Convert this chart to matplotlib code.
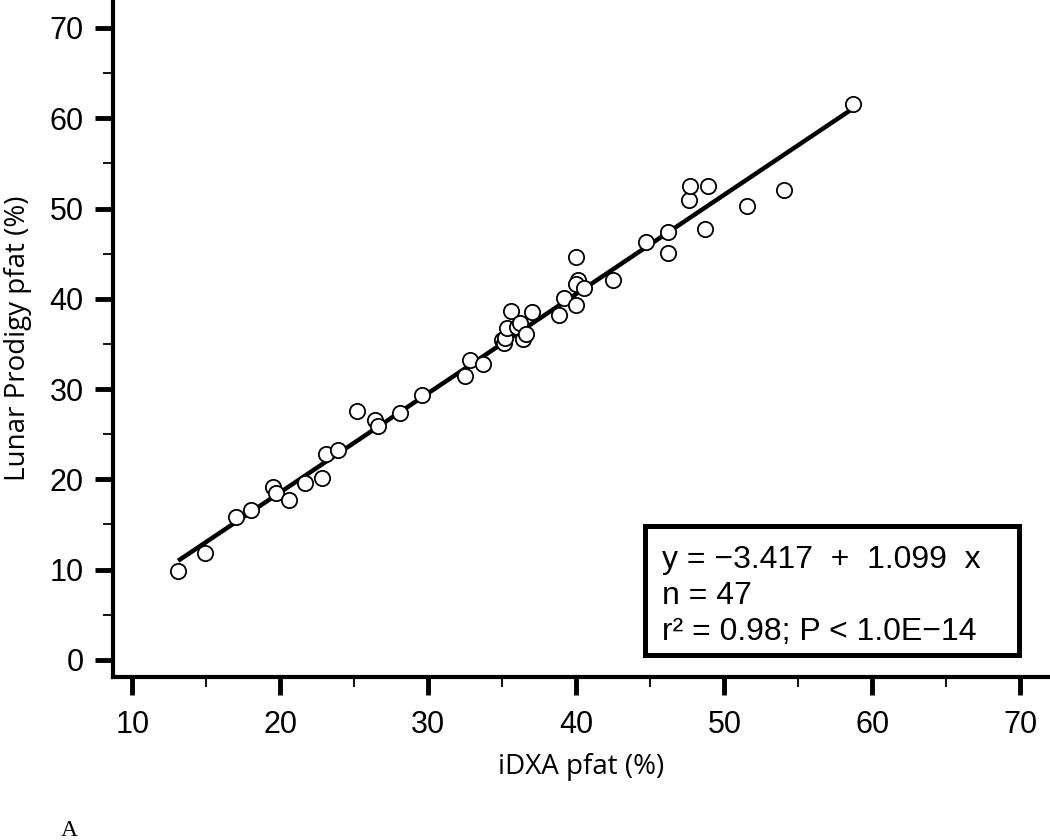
import numpy as np
import matplotlib
matplotlib.use("Agg")
import matplotlib.pyplot as plt
from matplotlib.patches import Rectangle
from matplotlib.ticker import MultipleLocator

plt.rcParams['font.family'] = ['Liberation Sans', 'DejaVu Sans']

# iDXA vs Lunar Prodigy percent fat
idxa = [13.1, 14.9, 17.0, 18.0, 19.5, 19.7, 20.6, 21.7, 22.8, 23.1,
        23.9, 25.2, 26.4, 26.6, 28.1, 29.6, 32.5, 32.8, 33.7, 35.0,
        35.1, 35.2, 35.3, 35.6, 36.0, 36.2, 36.4, 36.6, 37.0, 38.8,
        39.2, 40.0, 40.1, 40.0, 40.5, 40.0, 42.5, 44.7, 46.2, 46.2,
        47.6, 47.7, 48.7, 48.9, 51.5, 54.0, 58.7]
lunar = [9.9, 11.8, 15.8, 16.6, 19.1, 18.5, 17.7, 19.6, 20.2, 22.8,
         23.3, 27.6, 26.6, 25.9, 27.4, 29.3, 31.4, 33.2, 32.8, 35.4,
         35.1, 35.7, 36.8, 38.7, 36.9, 37.3, 35.6, 36.1, 38.5, 38.2,
         40.1, 44.6, 42.1, 41.6, 41.2, 39.3, 42.1, 46.3, 47.4, 45.1,
         50.9, 52.5, 47.7, 52.5, 50.3, 52.1, 61.6]

intercept = -3.417
slope = 1.099
stats_lines = ["y = \u22123.417  +  1.099  x",
               "n = 47",
               "r\u00b2 = 0.98; P < 1.0E\u221214"]

fig = plt.figure(figsize=(10.5, 8.4), dpi=100)
ax = fig.add_axes([0.1076, 0.194, 0.8924, 0.806])

ax.plot(idxa, lunar, 'o', ms=11, mfc='white', mec='black', mew=1.3,
        zorder=3)
xfit = np.array([min(idxa), max(idxa)])
ax.plot(xfit, intercept + slope * xfit, color='black', lw=3.2, zorder=2,
        solid_capstyle='butt')

ax.set_xlim(8.7, 72.0)
ax.set_ylim(-1.9, 73.1)
ax.xaxis.set_major_locator(MultipleLocator(10))
ax.xaxis.set_minor_locator(MultipleLocator(5))
ax.yaxis.set_major_locator(MultipleLocator(10))
ax.yaxis.set_minor_locator(MultipleLocator(5))

for s in ['top', 'right']:
    ax.spines[s].set_visible(False)
for s in ['left', 'bottom']:
    ax.spines[s].set_linewidth(3)

ax.tick_params(which='major', direction='out', length=13, width=3.5,
               labelsize=22)
ax.tick_params(which='minor', direction='out', length=7, width=1.3)
ax.tick_params(axis='y', which='major', pad=8)
ax.tick_params(axis='x', which='major', pad=11)

ax.set_xlabel("iDXA pfat (%)", family='Open Sans', fontsize=20, labelpad=9)
ax.set_ylabel("Lunar Prodigy pfat (%)", family='Open Sans', fontsize=20,
              labelpad=13)

# stats box
ax.add_patch(Rectangle((0.5683, 0.0332), 0.399, 0.1906, transform=ax.transAxes,
                       fill=True, fc='white', ec='black', lw=3.6, zorder=4))
for i, line in enumerate(stats_lines):
    ax.text(0.586, 0.161 - i * 0.053, line, transform=ax.transAxes,
            fontsize=23, va='baseline', ha='left', zorder=5)

fig.text(0.058, 0.024, "A", family='Liberation Serif', fontsize=17,
         va='top', ha='left')

fig.savefig("out.png", dpi=100)
